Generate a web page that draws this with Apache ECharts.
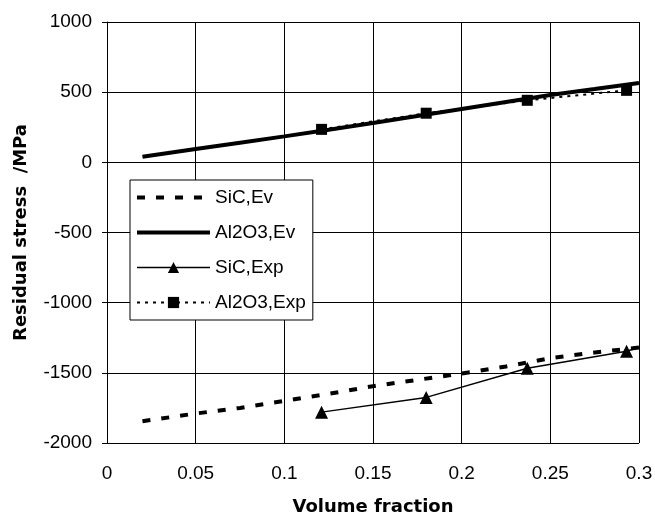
<!DOCTYPE html>
<html>
<head>
<meta charset="utf-8">
<script src="https://cdn.jsdelivr.net/npm/echarts@6/dist/echarts.min.js"></script>
<style>
  html, body { margin: 0; padding: 0; background: #fff; }
  #chart { width: 655px; height: 517px; }
</style>
</head>
<body>
<div id="chart"></div>
<script>
// 模型计算曲线 (Ev)
var evX       = [0.02, 0.05, 0.075, 0.1, 0.125, 0.15, 0.175, 0.2, 0.225, 0.25, 0.275, 0.3];
var sicEv     = [-1845, -1790, -1750, -1700, -1650, -1595, -1550, -1505, -1455, -1395, -1355, -1320];
var al2o3Ev   = [40, 95, 140, 185, 232, 280, 330, 380, 430, 480, 522, 565];
// 实验点 (Exp)
var expX      = [0.121, 0.18, 0.237, 0.293];
var sicExp    = [-1780, -1675, -1468, -1346];
var al2o3Exp  = [235, 350, 442, 513];
var sicExpEnd = [0.3, -1318];

function pairs(xs, ys) {
    var out = [];
    for (var i = 0; i < xs.length; i++) {
        out.push([xs[i], ys[i]]);
    }
    return out;
}

var myChart = echarts.init(document.getElementById("chart"));
var sicExpData = pairs(expX, sicExp);
sicExpData.push({ value: sicExpEnd, symbol: 'none' });

var font = "'Liberation Sans', Arial, sans-serif";
var titleFont = "'DejaVu Sans', sans-serif";
var option = {
    animation: false,
    textStyle: { fontFamily: font, color: '#000' },
    grid: { left: 107, right: 16, top: 22, bottom: 74, containLabel: false, outerBoundsMode: 'none' },
    legend: {
        orient: 'vertical',
        left: 130,
        top: 180,
        padding: [8, 7, 8, 5],
        itemGap: 16,
        itemWidth: 73,
        itemHeight: 14,
        backgroundColor: '#fff',
        borderColor: '#000',
        borderWidth: 1,
        lineStyle: { width: 'inherit' },
        textStyle: { fontSize: 19, color: '#000', fontFamily: font },
        data: ['SiC,Ev', 'Al2O3,Ev', 'SiC,Exp', 'Al2O3,Exp']
    },
    xAxis: {
        type: 'value',
        min: 0,
        max: 0.3,
        interval: 0.05,
        name: 'Volume fraction',
        nameLocation: 'middle',
        nameGap: 55,
        nameTextStyle: { fontSize: 18, fontWeight: 'bold', color: '#000', fontFamily: titleFont },
        axisLine: { lineStyle: { color: '#000', width: 1 } },
        axisTick: { show: true, length: 5, lineStyle: { color: '#000' } },
        axisLabel: { fontSize: 19, color: '#000', margin: 21 },
        splitLine: { show: true, lineStyle: { color: '#000', width: 1 } }
    },
    yAxis: {
        type: 'value',
        min: -2000,
        max: 1000,
        interval: 500,
        name: 'Residual stress  /MPa',
        nameLocation: 'middle',
        nameGap: 77,
        nameTextStyle: { fontSize: 18, fontWeight: 'bold', color: '#000', fontFamily: titleFont },
        axisLine: { show: true, lineStyle: { color: '#000', width: 1 } },
        axisTick: { show: true, length: 5, lineStyle: { color: '#000' } },
        axisLabel: {
            fontSize: 19, color: '#000', margin: 15,
            formatter: function (v) { return String(v); }
        },
        splitLine: { show: true, lineStyle: { color: '#000', width: 1 } }
    },
    series: [
        {
            name: 'SiC,Ev',
            type: 'line',
            data: pairs(evX, sicEv),
            showSymbol: false,
            symbol: 'none',
            itemStyle: { color: 'transparent' },
            lineStyle: { color: '#000', width: 4, type: [8, 11] }
        },
        {
            name: 'Al2O3,Ev',
            type: 'line',
            data: pairs(evX, al2o3Ev),
            showSymbol: false,
            symbol: 'none',
            itemStyle: { color: 'transparent' },
            lineStyle: { color: '#000', width: 4 }
        },
        {
            name: 'SiC,Exp',
            type: 'line',
            data: sicExpData,
            symbol: 'triangle',
            symbolSize: 13,
            itemStyle: { color: '#000' },
            lineStyle: { color: '#000', width: 1.5 }
        },
        {
            name: 'Al2O3,Exp',
            type: 'line',
            data: pairs(expX, al2o3Exp),
            symbol: 'rect',
            symbolSize: 11,
            itemStyle: { color: '#000' },
            lineStyle: { color: '#000', width: 2, type: [3, 5] }
        }
    ]
};
myChart.setOption(option);
</script>
</body>
</html>
